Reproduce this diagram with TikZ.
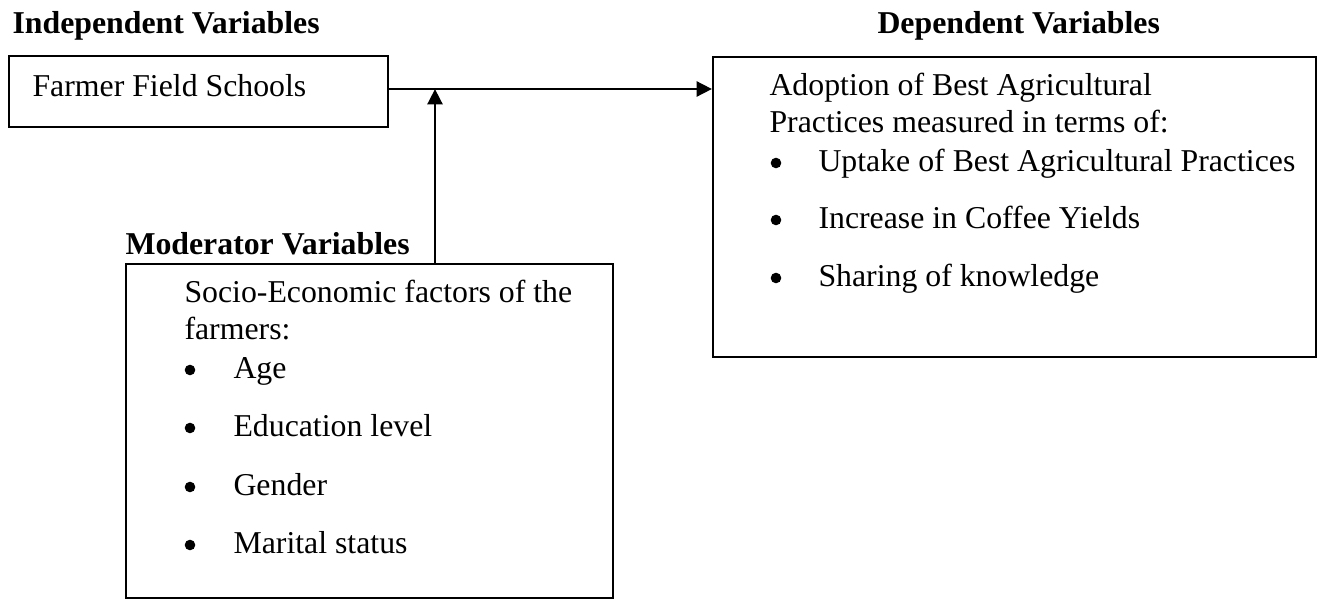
\documentclass[tikz,border=0pt]{standalone}
\usepackage{fontspec}
\setmainfont{Liberation Serif}
\usetikzlibrary{arrows.meta,fit}
\begin{document}
\begin{tikzpicture}[x=0.3774pt,y=-0.3774pt,
  box/.style={draw,line width=0.75pt,inner sep=0pt},
  txt/.style={anchor=base west,inner sep=0pt,font=\fontsize{12}{14}\selectfont},
  head/.style={txt,font=\fontsize{12}{14}\selectfont\bfseries},
  dot/.style={circle,fill,inner sep=0pt,minimum size=4pt},
  arr/.style={line width=1.1pt,-{Triangle[length=5.8pt,width=5.6pt]}}]
\useasboundingbox (0,0) rectangle (1321,603);
% headings
\node[head] (hind) at (12,33) {Independent Variables};
\node[head] (hdep) at (877,33) {Dependent Variables};
\node[head] (hmod) at (125,254) {Moderator Variables};
% boxes
\node[box,fit={(9,56) (388,127)}] (ffs) {};
\node[box,fit={(713,57) (1316,357)}] (dep) {};
\node[box,fit={(126,264) (613,598)}] (mod) {};
% FFS text
\node[txt] (tffs) at (32,96) {Farmer Field Schools};
% dependent text
\node[txt] (d1) at (769,95) {Adoption of Best Agricultural};
\node[txt] (d2) at (769,132) {Practices measured in terms of:};
\node[dot] (db1) at (776,163) {};
\node[txt] (di1) at (818,171) {Uptake of Best Agricultural Practices};
\node[dot] (db2) at (776,220) {};
\node[txt] (di2) at (818,228) {Increase in Coffee Yields};
\node[dot] (db3) at (776,278) {};
\node[txt] (di3) at (818,286) {Sharing of knowledge};
% moderator text
\node[txt] (m1) at (184,302) {Socio-Economic factors of the};
\node[txt] (m2) at (184,339) {farmers:};
\node[dot] (mb1) at (190,370) {};
\node[txt] (mi1) at (233,378) {Age};
\node[dot] (mb2) at (190,428) {};
\node[txt] (mi2) at (233,436) {Education level};
\node[dot] (mb3) at (190,487) {};
\node[txt] (mi3) at (233,495) {Gender};
\node[dot] (mb4) at (190,545) {};
\node[txt] (mi4) at (233,553) {Marital status};
% connectors
\coordinate (j) at (435,89);
\draw[arr] (ffs.east |- j) -- (dep.west |- j);
\draw[arr] (mod.north -| j) -- (j);
\end{tikzpicture}
\end{document}
